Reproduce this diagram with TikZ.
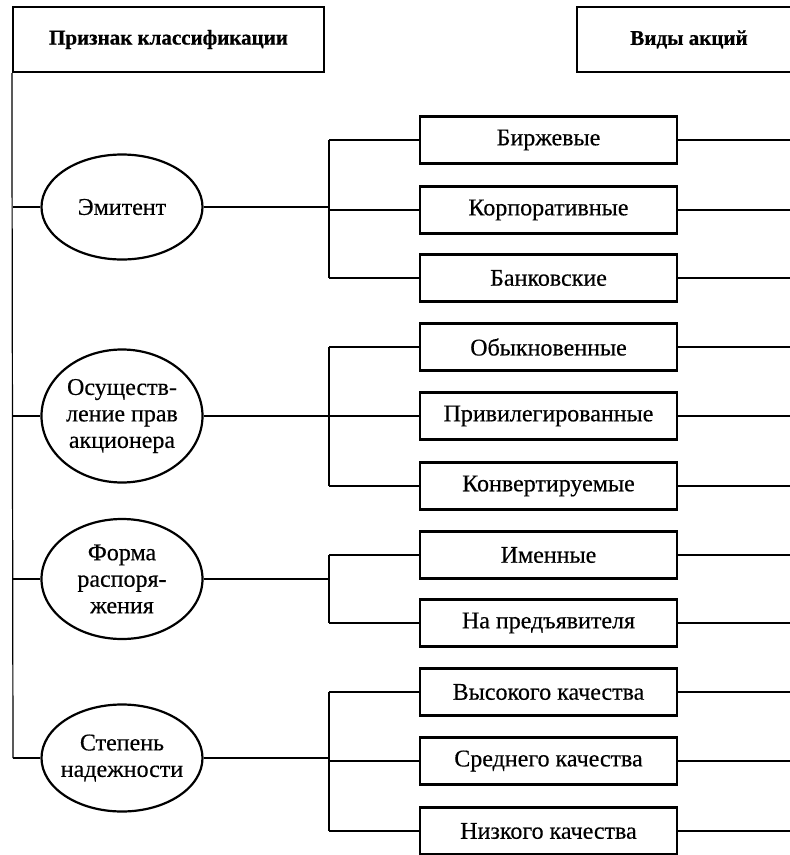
\documentclass[tikz,border=0pt]{standalone}
\usepackage{fontspec}
\setmainfont{Liberation Serif}[FakeBold=0.4,BoldFeatures={FakeBold=0.6}]
\usetikzlibrary{shapes.geometric}
\begin{document}
\begin{tikzpicture}[x=1pt,y=-1pt,
  box/.style={draw, line width=2.2pt, minimum width=257pt, minimum height=47pt, inner sep=0pt, font=\fontsize{24}{28}\selectfont},
  ell/.style={draw, ellipse, line width=2.2pt, minimum width=161pt, inner ysep=0pt, inner xsep=-8pt, align=center, font=\fontsize{24}{26.5}\selectfont},
  head/.style={draw, line width=2.2pt, minimum height=65pt, inner sep=0pt, font=\bfseries\fontsize{21}{24}\selectfont},
  ln/.style={line width=1.2pt}]
\useasboundingbox (0,0) rectangle (790,855);
% headers
\node[head, minimum width=311pt] (h1) at (168.5,39.5) {Признак классификации};
\node[head, minimum width=224pt] (h2) at (689,39.5) {Виды акций};
% ellipses
\node[ell, minimum height=105pt] (e1) at (122,207) {Эмитент};
\node[ell, minimum height=133pt] (e2) at (122,416) {Осуществ-\\ление прав\\акционера};
\node[ell, minimum height=120pt] (e3) at (122,579) {Форма\\распоря-\\жения};
\node[ell, minimum height=107pt] (e4) at (122,758) {Степень\\надежности};
% boxes
\node[box] (b1) at (548.5,140) {Биржевые};
\node[box] (b2) at (548.5,210) {Корпоративные};
\node[box] (b3) at (548.5,278) {Банковские};
\node[box] (b4) at (548.5,347) {Обыкновенные};
\node[box] (b5) at (548.5,416) {Привилегированные};
\node[box] (b6) at (548.5,486) {Конвертируемые};
\node[box] (b7) at (548.5,555) {Именные};
\node[box] (b8) at (548.5,623) {На предъявителя};
\node[box] (b9) at (548.5,692) {Высокого качества};
\node[box] (b10) at (548.5,761) {Среднего качества};
\node[box] (b11) at (548.5,831) {Низкого качества};
% helper coordinates
\coordinate (sp) at (13,0);
\coordinate (br) at (329,0);
\coordinate (re) at (790,0);
% spine
\draw[ln] (h1.south west) -- (sp |- e4.west);
\foreach \e in {e1,e2,e3,e4}{
  \draw[ln] (sp |- \e.west) -- (\e.west);
}
% ellipse to bracket
\draw[ln] (e1.east) -- (e1.east -| br);
\draw[ln] (e2.east) -- (e2.east -| br);
\draw[ln] (e3.east) -- (e3.east -| br);
\draw[ln] (e4.east) -- (e4.east -| br);
% brackets
\draw[ln] (br |- b1.west) -- (br |- b3.west);
\draw[ln] (br |- b4.west) -- (br |- b6.west);
\draw[ln] (br |- b7.west) -- (br |- b8.west);
\draw[ln] (br |- b9.west) -- (br |- b11.west);
\foreach \b in {b1,b2,b3,b4,b5,b6,b7,b8,b9,b10,b11}{
  \draw[ln] (br |- \b.west) -- (\b.west);
  \draw[ln] (\b.east) -- (\b.east -| re);
}
\end{tikzpicture}
\end{document}
